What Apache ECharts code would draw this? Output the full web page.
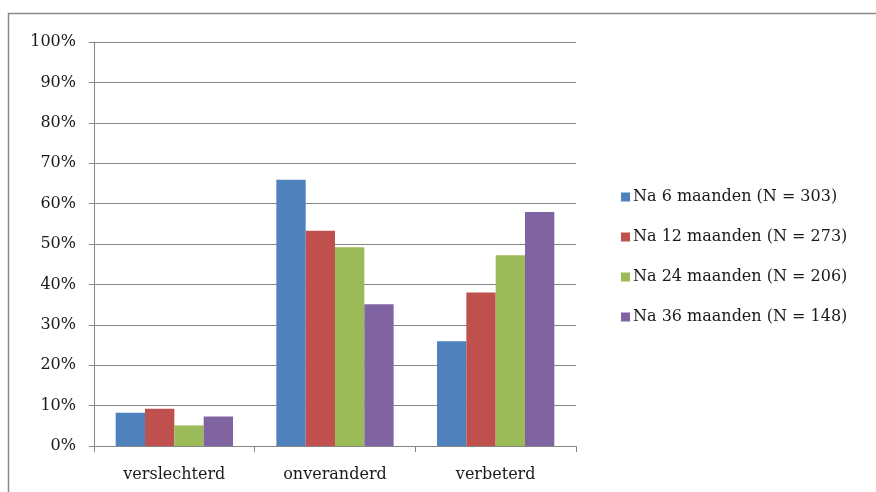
<!DOCTYPE html>
<html><head><meta charset="utf-8">
<script src="https://cdn.jsdelivr.net/npm/echarts@6/dist/echarts.min.js"></script>
<style>html,body{margin:0;padding:0;background:#fff}#c{width:876px;height:492px}</style>
</head><body><div id="c"></div>
<script>
const categories = ['verslechterd', 'onveranderd', 'verbeterd'];
const seriesNames = ['Na 6 maanden (N = 303)', 'Na 12 maanden (N = 273)', 'Na 24 maanden (N = 206)', 'Na 36 maanden (N = 148)'];
const na6 = [8.2, 65.9, 25.9];
const na12 = [9.2, 53.3, 38.0];
const na24 = [5.1, 49.2, 47.2];
const na36 = [7.3, 35.1, 57.9];
const colors = ['#4F81BD', '#C0504D', '#9BBB59', '#8064A2'];
const values = [na6, na12, na24, na36];
const font = '"DejaVu Serif", "Liberation Serif", serif';

const chart = echarts.init(document.getElementById('c'), null, {renderer: 'canvas'});
chart.setOption({
  animation: false,
  backgroundColor: '#fff',
  graphic: [{
    type: 'polyline', silent: true,
    shape: {points: [[8.5, 492], [8.5, 13.5], [876, 13.5]]},
    style: {stroke: '#8a8a8a', lineWidth: 1.5, fill: null}
  }],
  grid: {left: 94, right: 300, top: 42, bottom: 46},
  legend: {
    orient: 'vertical', left: 616, top: 184,
    itemWidth: 9, itemHeight: 9, itemGap: 24,
    icon: 'rect',
    textStyle: {fontFamily: font, fontSize: 16, color: '#1a1a1a', padding: [0, 0, 0, -2]},
    data: seriesNames
  },
  xAxis: {
    type: 'category', data: categories,
    axisLine: {lineStyle: {color: '#868686', width: 1}},
    axisTick: {show: true, length: 6, lineStyle: {color: '#868686'}},
    axisLabel: {fontFamily: font, fontSize: 16, color: '#1a1a1a', margin: 21}
  },
  yAxis: {
    type: 'value', min: 0, max: 100, interval: 10,
    axisLine: {show: true, lineStyle: {color: '#868686', width: 1}},
    axisTick: {show: true, length: 5, lineStyle: {color: '#868686'}},
    splitLine: {lineStyle: {color: '#868686', width: 1}},
    axisLabel: {fontFamily: font, fontSize: 16, color: '#1a1a1a', margin: 18, formatter: '{value}%'}
  },
  series: seriesNames.map((n, i) => ({
    name: n, type: 'bar', data: values[i],
    barGap: '0%', barCategoryGap: '27%',
    itemStyle: {color: colors[i]}
  }))
});
</script></body></html>
